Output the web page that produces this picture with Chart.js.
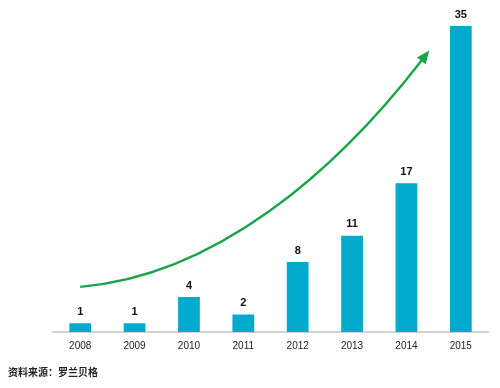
<!DOCTYPE html>
<html>
<head>
<meta charset="utf-8">
<script src="https://cdn.jsdelivr.net/npm/chart.js@4/dist/chart.umd.min.js"></script>
<style>
  html, body { margin: 0; padding: 0; background: #fff; }
  #wrap { position: relative; width: 500px; height: 388px; }
  #src { position: absolute; left: 8px; top: 365px; font-family: "Noto Sans CJK SC", sans-serif; font-size: 10px; font-weight: 700; color: #222; line-height: 14px; }
</style>
</head>
<body>
<div id="wrap">
  <canvas id="c" width="500" height="388"></canvas>
  <div id="src">资料来源：罗兰贝格</div>
</div>
<script>
const categories = ["2008", "2009", "2010", "2011", "2012", "2013", "2014", "2015"];
const values = [1, 1, 4, 2, 8, 11, 17, 35];
// trend arrow guide points in (category index, value) space
const arrowPts = [[0, 5.16], [2.48, 6.43], [4.69, 18.25], [6.42, 32.2]];

const labelPlugin = {
  id: 'barLabels',
  afterDatasetsDraw(chart) {
    const ctx = chart.ctx;
    const meta = chart.getDatasetMeta(0);
    ctx.save();
    ctx.font = 'bold 11px "Liberation Sans", Arial, sans-serif';
    ctx.fillStyle = '#111';
    ctx.textAlign = 'center';
    ctx.textBaseline = 'bottom';
    meta.data.forEach((bar, i) => {
      ctx.fillText(String(values[i]), bar.x, bar.y - 6);
    });
    ctx.restore();
  }
};

const arrowPlugin = {
  id: 'trendArrow',
  afterDatasetsDraw(chart) {
    const xs = chart.scales.x, ys = chart.scales.y;
    const toPx = p => {
      const x0 = xs.getPixelForValue(Math.floor(p[0]));
      const x1 = xs.getPixelForValue(Math.floor(p[0]) + 1);
      const f = p[0] - Math.floor(p[0]);
      return [x0 + (x1 - x0) * f, ys.getPixelForValue(p[1])];
    };
    const [p0, p1, p2, p3] = arrowPts.map(toPx);
    const ctx = chart.ctx;
    const dx = p3[0] - p2[0], dy = p3[1] - p2[1];
    const len = Math.hypot(dx, dy);
    const ux = dx / len, uy = dy / len;
    const headLen = 13, headW = 5.5;
    const bx = p3[0] - ux * headLen, by = p3[1] - uy * headLen;
    ctx.save();
    ctx.strokeStyle = '#1aa34a';
    ctx.fillStyle = '#1aa34a';
    ctx.lineWidth = 2.4;
    ctx.beginPath();
    ctx.moveTo(p0[0], p0[1]);
    ctx.bezierCurveTo(p1[0], p1[1], p2[0], p2[1], bx + ux * 2, by + uy * 2);
    ctx.stroke();
    ctx.beginPath();
    ctx.moveTo(p3[0], p3[1]);
    ctx.lineTo(bx - uy * headW, by + ux * headW);
    ctx.lineTo(bx + uy * headW, by - ux * headW);
    ctx.closePath();
    ctx.fill();
    ctx.restore();
  }
};

new Chart(document.getElementById('c'), {
  type: 'bar',
  data: {
    labels: categories,
    datasets: [{
      data: values,
      backgroundColor: '#00aacc',
      borderWidth: 0,
      categoryPercentage: 0.8,
      barPercentage: 0.5
    }]
  },
  options: {
    responsive: false,
    animation: false,
    events: [],
    layout: { padding: { left: 53, right: 12, top: 26, bottom: 28 } },
    plugins: { legend: { display: false }, tooltip: { enabled: false } },
    scales: {
      x: {
        grid: { display: false, drawTicks: false },
        border: { display: true, color: '#d2d2d2', width: 2 },
        ticks: { color: '#222', font: { family: '"Liberation Sans", Arial, sans-serif', size: 10 }, padding: 8 }
      },
      y: {
        display: false,
        min: 0,
        max: 35
      }
    }
  },
  plugins: [labelPlugin, arrowPlugin]
});
</script>
</body>
</html>
